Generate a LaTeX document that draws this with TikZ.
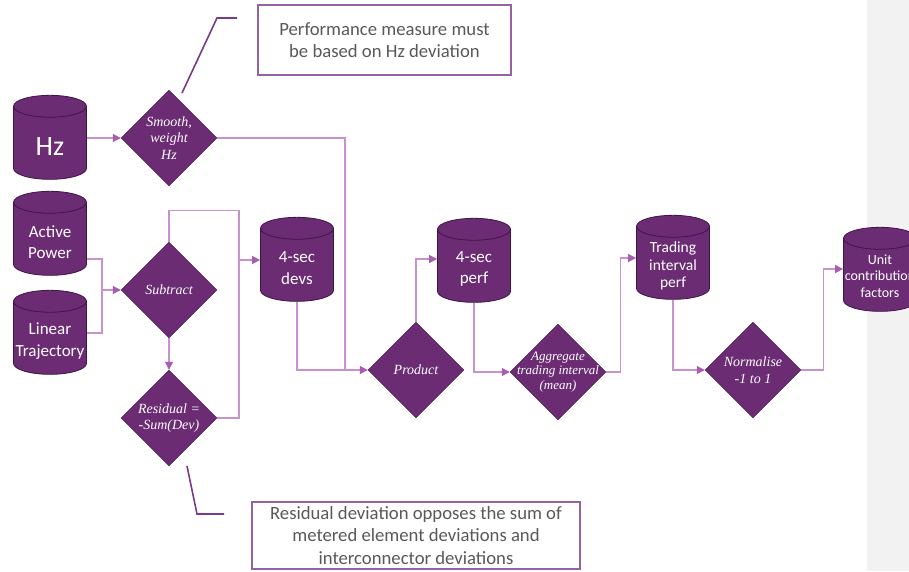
\documentclass[tikz,border=0pt]{standalone}
\usepackage{fontspec}
\setmainfont{Carlito}
\newfontfamily\opfont{Liberation Serif}
\usetikzlibrary{shapes.geometric,arrows.meta}

\definecolor{dbfill}{HTML}{6B2C74}
\definecolor{dbedge}{HTML}{3F1547}
\definecolor{flowline}{HTML}{C892CE}
\definecolor{flowtip}{HTML}{A85DB0}
\definecolor{legline}{HTML}{7A3A8A}
\definecolor{notetext}{HTML}{595959}
\definecolor{panel}{HTML}{F2F2F2}

\begin{document}
\begin{tikzpicture}[x=1pt,y=-1pt,
        store/.style={cylinder, shape border rotate=90, aspect=0.3, draw=dbedge, line width=0.8pt,
            fill=dbfill, text width=73pt, minimum width=73pt, minimum height=84pt, inner sep=0pt},
        storetext/.style={text=white, align=center, inner sep=0pt, yshift=-3pt,
            font=\fontsize{17}{21.5}\selectfont},
        process/.style={diamond, draw=dbedge, line width=0.4pt, fill=dbfill,
            minimum width=96pt, minimum height=96pt, inner sep=0pt},
        optext/.style={text=white, align=center, inner sep=0pt,
            font=\opfont\itshape\fontsize{14}{16.5}\selectfont},
        flow/.style={draw=flowline, line width=1.1pt, -{Triangle[length=8pt,width=8pt,color=flowtip]}},
        line/.style={draw=flowline, line width=1.1pt},
        leg/.style={draw=legline, line width=1.6pt},
        note/.style={draw=legline!80, line width=1.3pt, fill=white, text=notetext, align=center,
            font=\fontsize{18.7}{22.5}\selectfont, inner sep=0pt}]
        \useasboundingbox (0,0) rectangle (909,571);
        \fill[panel] (867,0) rectangle (909,571);

        \node[store, label={[storetext, yshift=-1pt, font=\fontsize{28}{30}\selectfont]center:Hz}] (hz) at (50,143) {};
        \node[store, label={[storetext]center:Active\\Power}] (active) at (50,239) {};
        \node[store, label={[storetext]center:Linear\\Trajectory}] (linear) at (50,338) {};
        \node[store, label={[storetext]center:4-sec\\devs}] (devs) at (297,265) {};
        \node[store, label={[storetext]center:4-sec\\perf}] (perf) at (474,266) {};
        \node[store, label={[storetext, font=\fontsize{15.5}{17.5}\selectfont]center:Trading\\interval\\perf}] (trading) at (673,263) {};
        \node[store, label={[storetext, yshift=2pt, font=\fontsize{14}{16.5}\selectfont]center:Unit\\contribution\\factors}] (unit) at (880,275) {};

        \node[process, label={[optext]center:Smooth,\\weight\\Hz}] (smooth) at (169,138) {};
        \node[process, label={[optext]center:Subtract}] (subtract) at (169,290) {};
        \node[process, label={[optext]center:Residual =\\-Sum(Dev)}] (residual) at (169,418) {};
        \node[process, label={[optext]center:Product}] (product) at (416,370) {};
        \node[process, label={[optext, font=\opfont\itshape\fontsize{13}{14.5}\selectfont]center:Aggregate\\trading interval\\(mean)}] (aggregate) at (558,372) {};
        \node[process, label={[optext]center:Normalise\\-1 to 1}] (normalise) at (753,370) {};

        \coordinate (hzjoin) at (345,370);
        \coordinate (injoin) at (102,290);
        \coordinate (devjoin) at (239,260);

        \draw[flow] (hz.east |- smooth.west) -- (smooth.west);
        \draw[line] (smooth.east) -| (hzjoin);
        \draw[flow] (devs.south) |- (product.west);
        \draw[line] (active.east) ++(0,20) -| (injoin);
        \draw[line] (linear.east) ++(0,-5) -| (injoin);
        \draw[flow] (injoin) -- (subtract.west);
        \draw[line] (subtract.north) -- ++(0,-31) -| (devjoin);
        \draw[line] (residual.east) -| (devjoin);
        \draw[flow] (devjoin) -- (devs.west |- devjoin);
        \draw[flow] (subtract.south) -- (residual.north);
        \draw[flow] (product.north) |- (perf.west |- 0,259);
        \draw[flow] (perf.south) |- (aggregate.west);
        \draw[flow] (aggregate.east) -- ++(14,0) |- (trading.west |- 0,258);
        \draw[flow] (trading.south) |- (normalise.west);
        \draw[flow] (normalise.east) -- ++(22,0) |- (unit.west |- 0,269);

        \node[note, minimum width=253pt, minimum height=70pt] (hznote) at (384.5,40) {Performance measure must\\be based on Hz deviation};
        \node[note, minimum width=328pt, minimum height=67pt] (resnote) at (416,535.5) {Residual deviation opposes the sum of\\metered element deviations and\\interconnector deviations};

        \draw[leg] (182,93) -- (217,18) -- (237,18);
        \draw[leg] (187,466) -- (197,514) -- (224,514);
    \end{tikzpicture}
\end{document}
